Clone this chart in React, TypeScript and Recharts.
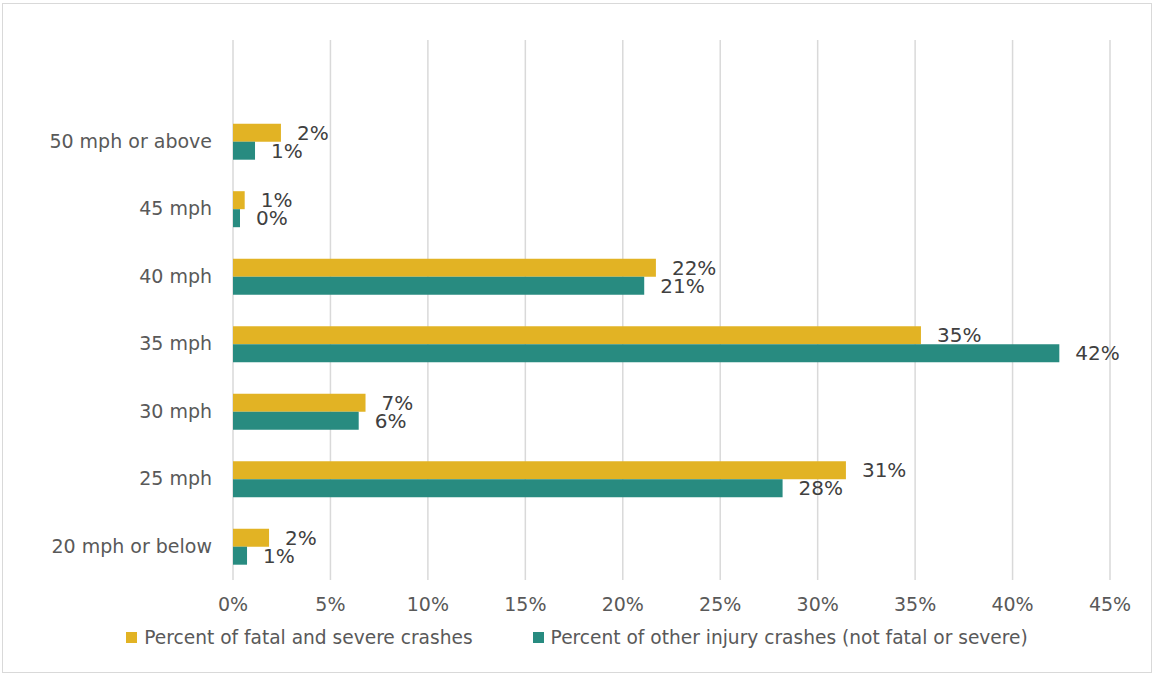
import React from "react";
import { BarChart, Bar, XAxis, YAxis, CartesianGrid, LabelList } from "recharts";

const categories = ["", "50 mph or above", "45 mph", "40 mph", "35 mph", "30 mph", "25 mph", "20 mph or below"];
const fatalSevere = [null, 2.46, 0.6, 21.7, 35.3, 6.8, 31.45, 1.85];
const otherInjury = [null, 1.13, 0.36, 21.1, 42.4, 6.45, 28.2, 0.72];
const xTicks = [0, 5, 10, 15, 20, 25, 30, 35, 40, 45];
const seriesNames = ["Percent of fatal and severe crashes", "Percent of other injury crashes (not fatal or severe)"];
const colors = ["#E2B324", "#288B80"];

const data = categories.map((c, i) => ({ name: c, fatal: fatalSevere[i], other: otherInjury[i] }));

const FONT = "'DejaVu Sans', sans-serif";
const TEXT = "#595959";

const pct = (v: any) => (v === null || v === undefined ? "" : `${Math.round(Number(v))}%`);

export default function App() {
  return (
    <div style={{ position: "absolute", left: 0, top: 0, width: 1154, height: 675, background: "#fff", fontFamily: FONT }}>
      <div style={{ position: "absolute", left: 2, top: 3, width: 1148, height: 668, border: "1px solid #d9d9d9" }} />
      <BarChart
        width={1154}
        height={675}
        data={data}
        layout="vertical"
        margin={{ top: 40, right: 44, bottom: 65, left: 0 }}
        barCategoryGap="24%"
        barGap={0}
      >
        <CartesianGrid horizontal={false} vertical stroke="#d9d9d9" strokeWidth={1.5} />
        <XAxis
          type="number"
          domain={[0, 45]}
          ticks={xTicks}
          tickFormatter={(v) => `${v}%`}
          axisLine={false}
          tickLine={false}
          tickSize={0}
          tickMargin={18}
          height={30}
          tick={{ fill: TEXT, fontSize: 19, fontFamily: FONT }}
          interval={0}
        />
        <YAxis
          type="category"
          dataKey="name"
          width={233}
          axisLine={false}
          tickLine={false}
          tickSize={0}
          tickMargin={21}
          tick={{ fill: TEXT, fontSize: 19, fontFamily: FONT }}
          interval={0}
        />
        <Bar dataKey="fatal" fill={colors[0]} isAnimationActive={false}>
          <LabelList dataKey="fatal" position="right" offset={16} formatter={pct} style={{ fill: "#404040", fontSize: 20, fontFamily: FONT }} />
        </Bar>
        <Bar dataKey="other" fill={colors[1]} isAnimationActive={false}>
          <LabelList dataKey="other" position="right" offset={16} formatter={pct} style={{ fill: "#404040", fontSize: 20, fontFamily: FONT }} />
        </Bar>
      </BarChart>
      <div style={{ position: "absolute", left: 0, top: 627, width: 1154, display: "flex", justifyContent: "center", gap: 60, color: TEXT, fontSize: 18.6 }}>
        {seriesNames.map((n, i) => (
          <div key={n} style={{ display: "flex", alignItems: "center" }}>
            <span style={{ display: "inline-block", width: 11, height: 11, background: colors[i], marginRight: 7 }} />
            <span>{n}</span>
          </div>
        ))}
      </div>
    </div>
  );
}
